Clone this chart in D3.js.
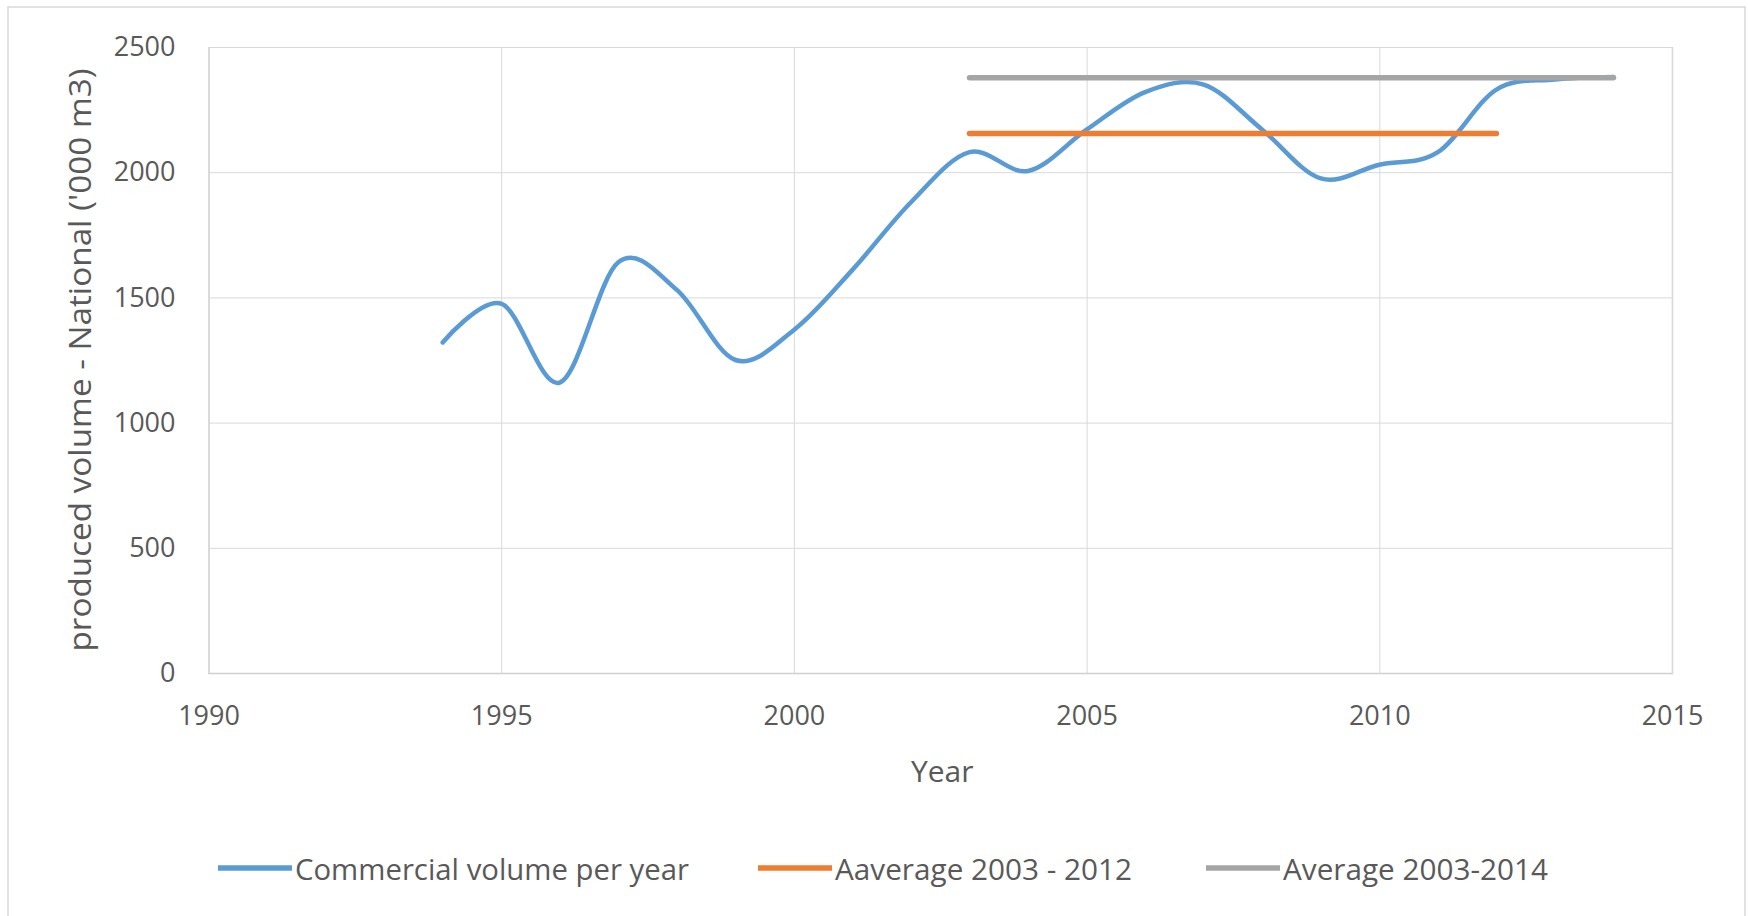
<!DOCTYPE html>
<html>
<head>
<meta charset="utf-8">
<script src="https://cdn.jsdelivr.net/npm/d3@7"></script>
<style>
  body { margin: 0; background: #fff; }
  svg text { font-family: "Open Sans", "Noto Sans", sans-serif; fill: #595959; }
</style>
</head>
<body>
<svg id="chart" width="1748" height="916"></svg>
<script>
// Values
const years = [1994, 1995, 1996, 1997, 1998, 1999, 2000, 2001, 2002, 2003, 2004,
               2005, 2006, 2007, 2008, 2009, 2010, 2011, 2012, 2013, 2014];
const volume = [1320, 1475, 1160, 1640, 1530, 1250, 1370, 1610, 1880, 2080, 2005,
                2170, 2320, 2350, 2170, 1975, 2030, 2080, 2330, 2370, 2380];
const avg2003_2012 = [[2003, 2155], [2012, 2155]];
const avg2003_2014 = [[2003, 2377], [2014, 2377]];
const xTicks = [1990, 1995, 2000, 2005, 2010, 2015];
const yTicks = [0, 500, 1000, 1500, 2000, 2500];
const seriesNames = ["Commercial volume per year", "Aaverage 2003 - 2012", "Average 2003-2014"];
const seriesColors = ["#5b9bd5", "#ed7d31", "#a5a5a5"];

// Set up sizing constants
const svgWidth = 1748;
const svgHeight = 916;
const margin = {top: 47, right: 76, bottom: 243, left: 208.5};
const width = svgWidth - margin.left - margin.right;
const height = svgHeight - margin.top - margin.bottom;

const svg = d3.select("svg#chart");

// chart frame
svg.append("rect")
  .attr("x", 8).attr("y", 7)
  .attr("width", 1737).attr("height", 920)
  .attr("fill", "#fff")
  .attr("stroke", "#d9d9d9")
  .attr("stroke-width", 1.5);

// Create the scales
const xScale = d3.scaleLinear()
  .domain([1990, 2015])
  .range([margin.left, margin.left + width]);

const yScale = d3.scaleLinear()
  .domain([0, 2500])
  .range([margin.top + height, margin.top]);

// Gridlines via axes
const yGrid = d3.axisLeft(yScale)
  .tickValues(yTicks)
  .tickSize(-width)
  .tickFormat("");

const xGrid = d3.axisBottom(xScale)
  .tickValues(xTicks)
  .tickSize(-height)
  .tickFormat("");

svg.append("g")
  .attr("transform", "translate(" + margin.left + ",0)")
  .call(yGrid)
  .call(g => g.select(".domain").remove())
  .selectAll("line").attr("stroke", "#d9d9d9");

svg.append("g")
  .attr("transform", "translate(0," + (margin.top + height) + ")")
  .call(xGrid)
  .call(g => g.select(".domain").attr("stroke", "#d0d0d0").attr("stroke-width", 1.5))
  .selectAll("line").attr("stroke", "#d9d9d9");

// Tick labels
const yAxis = d3.axisLeft(yScale)
  .tickValues(yTicks)
  .tickSize(0)
  .tickPadding(33)
  .tickFormat(d3.format("d"));

svg.append("g")
  .attr("transform", "translate(" + margin.left + ",0)")
  .call(yAxis)
  .call(g => g.select(".domain").remove())
  .selectAll("text")
  .style("font-size", "27px");

const xAxis = d3.axisBottom(xScale)
  .tickValues(xTicks)
  .tickSize(0)
  .tickPadding(33)
  .tickFormat(d3.format("d"));

svg.append("g")
  .attr("transform", "translate(0," + (margin.top + height) + ")")
  .call(xAxis)
  .call(g => g.select(".domain").remove())
  .selectAll("text")
  .style("font-size", "27px");

// Axis titles
svg.append("text")
  .attr("x", margin.left + width / 2 + 2)
  .attr("y", 782)
  .attr("text-anchor", "middle")
  .style("font-size", "30px")
  .text("Year");

svg.append("text")
  .attr("transform", "translate(91," + (margin.top + height / 2) + ") rotate(-90)")
  .attr("text-anchor", "middle")
  .attr("textLength", 583)
  .attr("lengthAdjust", "spacingAndGlyphs")
  .style("font-size", "31px")
  .text("produced volume - National ('000 m3)");

// Lines
const line = d3.line()
  .x(d => xScale(d[0]))
  .y(d => yScale(d[1]));

const smoothLine = d3.line()
  .x(d => xScale(d[0]))
  .y(d => yScale(d[1]))
  .curve(d3.curveCardinal.tension(0));

svg.append("path")
  .attr("d", smoothLine(years.map((y, i) => [y, volume[i]])))
  .attr("fill", "none")
  .attr("stroke", seriesColors[0])
  .attr("stroke-width", 4.5)
  .attr("stroke-linecap", "round");

svg.append("path")
  .attr("d", line(avg2003_2012))
  .attr("fill", "none")
  .attr("stroke", seriesColors[1])
  .attr("stroke-width", 5.5)
  .attr("stroke-linecap", "round");

svg.append("path")
  .attr("d", line(avg2003_2014))
  .attr("fill", "none")
  .attr("stroke", seriesColors[2])
  .attr("stroke-width", 5.5)
  .attr("stroke-linecap", "round");

// Legend
const legendX = [218, 758, 1206];
const legendLen = [394, 297, 265];
const legendY = 868;
const legend = svg.append("g");
seriesNames.forEach((name, i) => {
  legend.append("line")
    .attr("x1", legendX[i]).attr("x2", legendX[i] + 74)
    .attr("y1", legendY).attr("y2", legendY)
    .attr("stroke", seriesColors[i])
    .attr("stroke-width", 5.5);
  legend.append("text")
    .attr("x", legendX[i] + 77)
    .attr("y", legendY)
    .attr("dominant-baseline", "central")
    .attr("textLength", legendLen[i])
    .attr("lengthAdjust", "spacingAndGlyphs")
    .style("font-size", "29px")
    .text(name);
});
</script>
</body>
</html>
